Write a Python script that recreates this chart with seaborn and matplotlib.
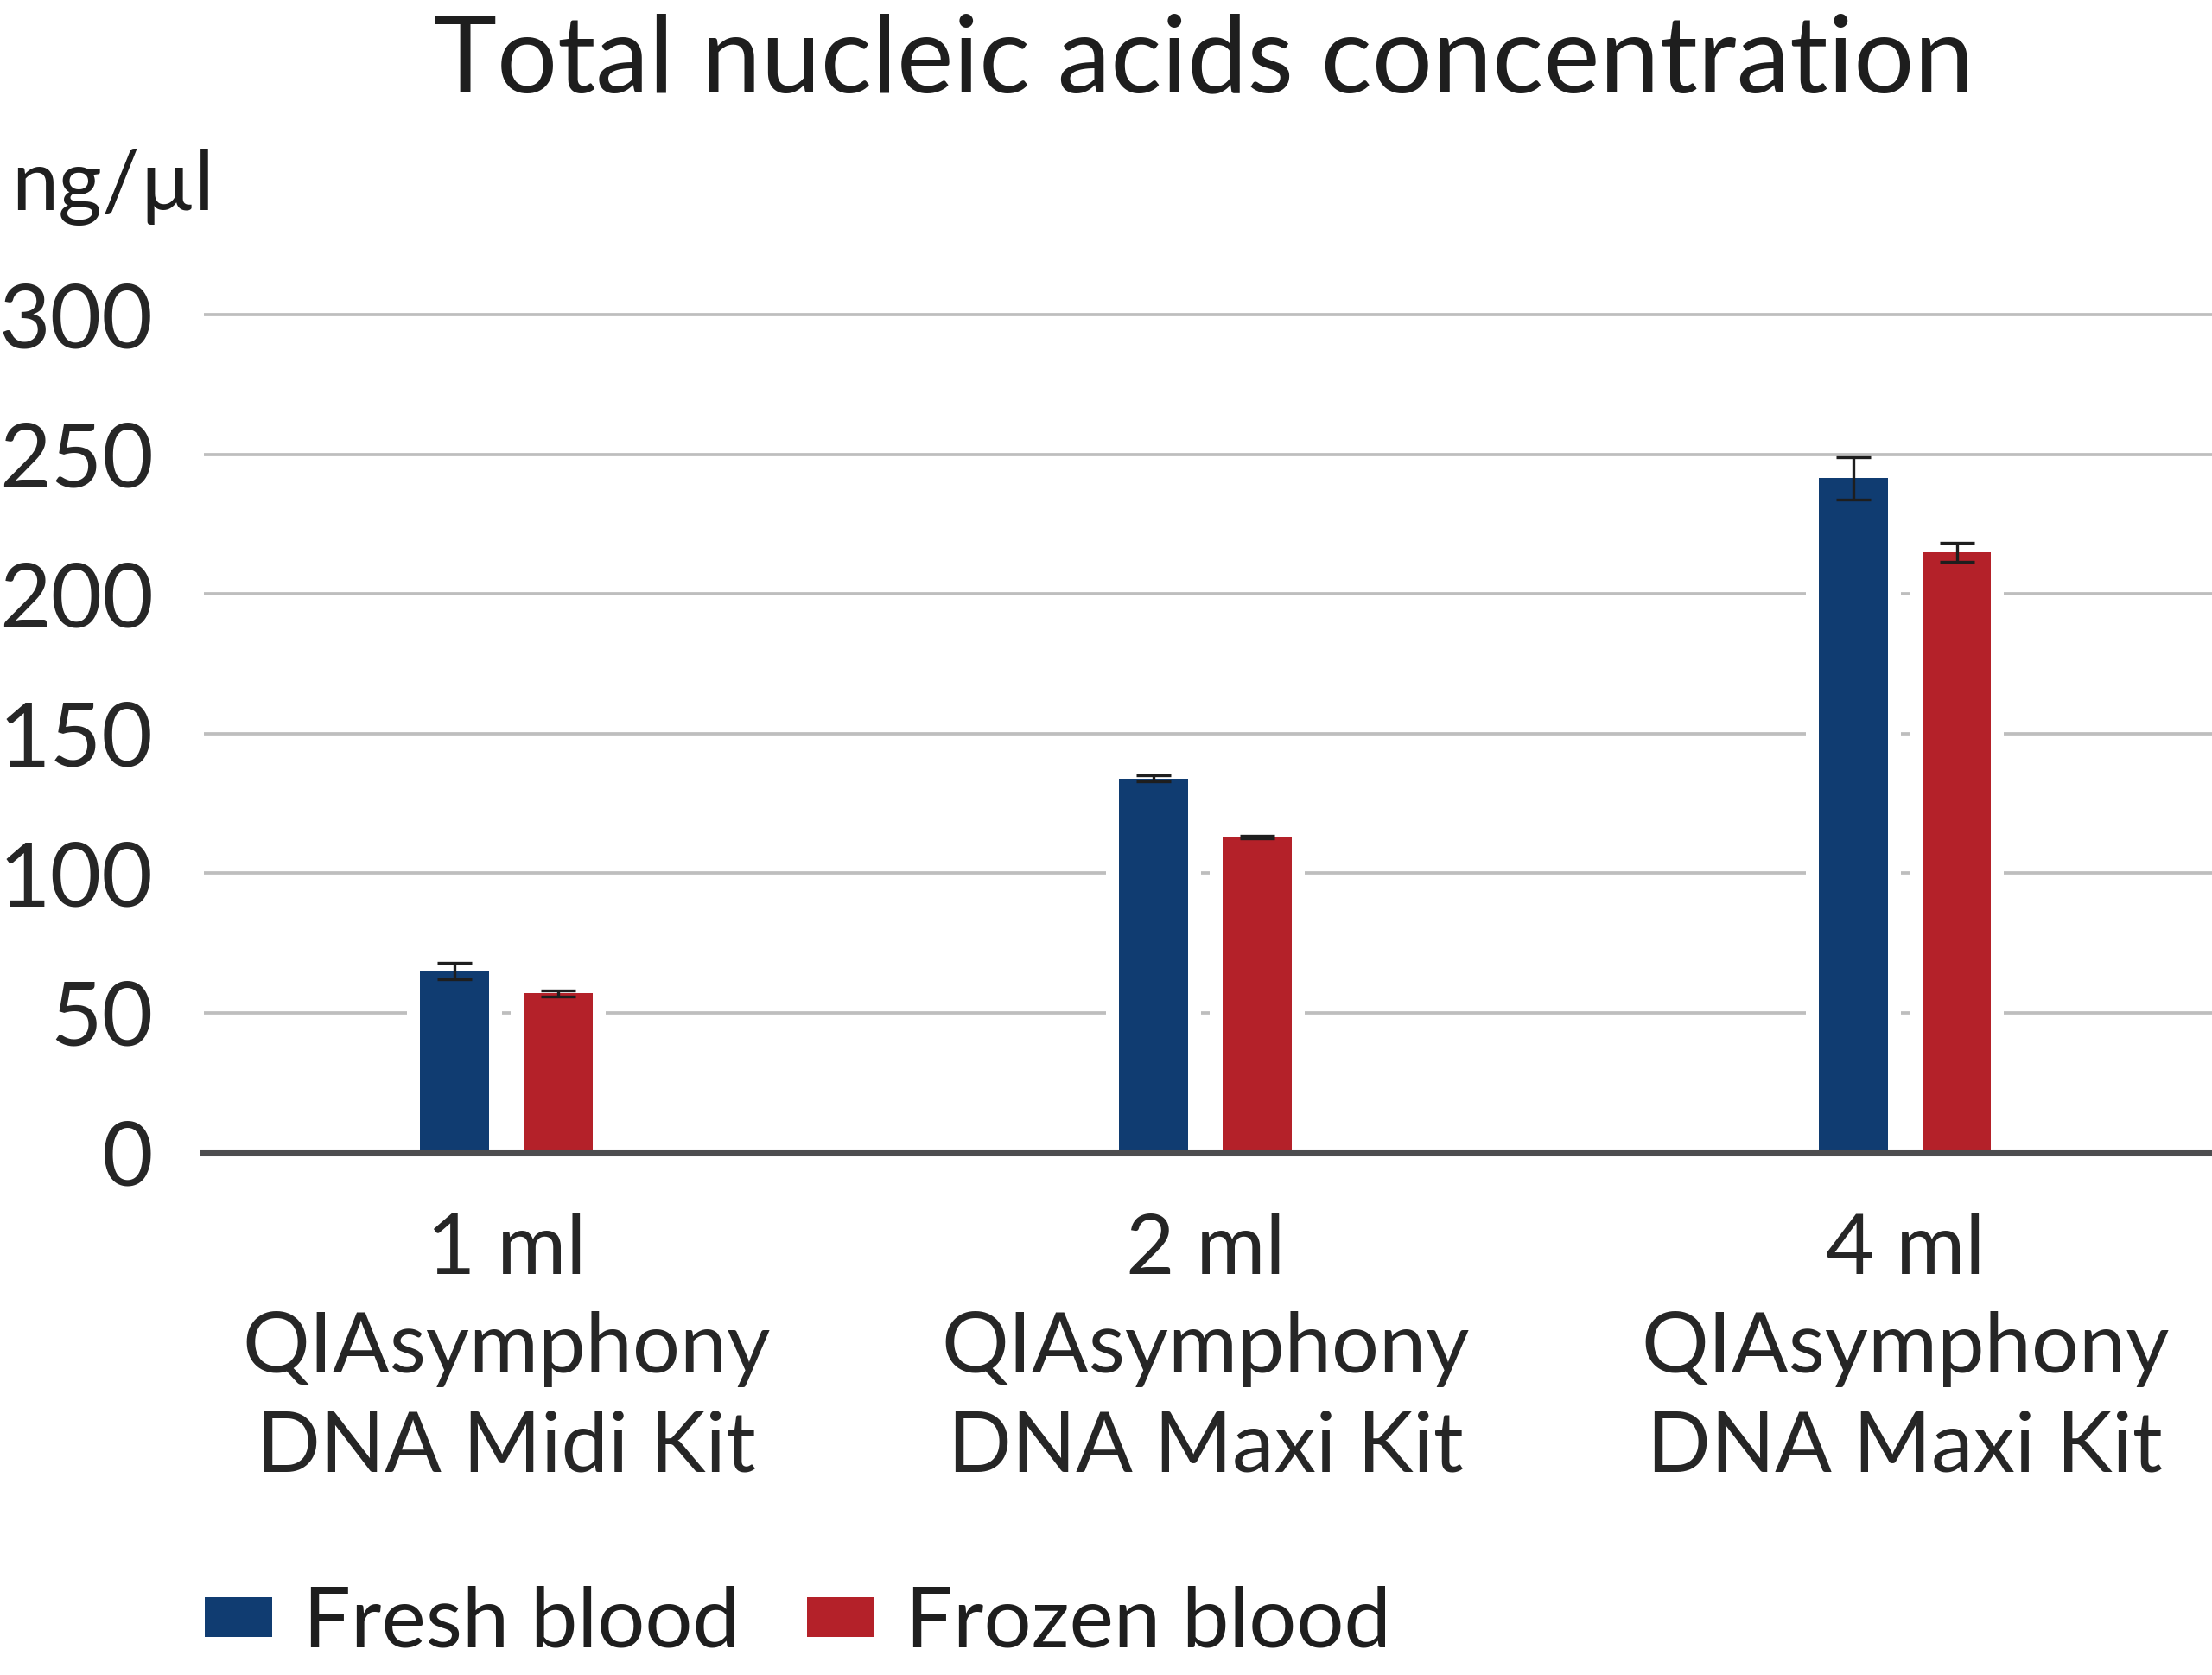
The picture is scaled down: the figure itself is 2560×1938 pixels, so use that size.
import matplotlib
matplotlib.use("Agg")
import matplotlib.pyplot as plt
import matplotlib.patheffects as pe
from matplotlib.patches import Patch
import seaborn as sns
import pandas as pd

# ---- data ----
kits = ["1 ml\nQIAsymphony\nDNA Midi Kit",
        "2 ml\nQIAsymphony\nDNA Maxi Kit",
        "4 ml\nQIAsymphony\nDNA Maxi Kit"]
samples = ["Fresh blood", "Frozen blood"]
fresh_mean = [65, 134, 241.5]
fresh_err = [2.8, 1.0, 7.6]
frozen_mean = [57, 113, 215]
frozen_err = [1.0, 0.6, 3.3]
yticks = [0, 50, 100, 150, 200, 250, 300]
title = "Total nucleic acids concentration"
unit = "ng/\u00b5l"

colors = {"Fresh blood": "#103c71", "Frozen blood": "#b42129"}

df = pd.DataFrame({
    "kit": kits * 2,
    "sample": [samples[0]] * 3 + [samples[1]] * 3,
    "value": fresh_mean + frozen_mean,
    "err": fresh_err + frozen_err,
})

sns.set_theme(style="white")
plt.rcParams["font.family"] = ["Lato", "DejaVu Sans"]
plt.rcParams["text.color"] = "#1e1e1e"

W, H = 2560, 1938
fig = plt.figure(figsize=(W / 100, H / 100), dpi=100)
ax_left, ax_right = 236, 2560
y0_px, ytop_px = 1333.5, 358
ax = fig.add_axes([ax_left / W, 1 - y0_px / H, (ax_right - ax_left) / W, (y0_px - ytop_px) / H])

sns.barplot(data=df, x="kit", y="value", hue="sample", hue_order=samples,
            order=kits, palette=colors, width=0.296, gap=0.333,
            errorbar=None, legend=False, ax=ax, saturation=1)

stroke = [pe.Stroke(linewidth=21.6, foreground="white"), pe.Normal()]
for p in ax.patches:
    p.set_linewidth(0)
    p.set_path_effects(stroke)

# error bars placed at the bar centres computed by seaborn
errs = {}
for s in samples:
    for k in kits:
        row = df[(df["sample"] == s) & (df["kit"] == k)].iloc[0]
        errs.setdefault(s, []).append((row["value"], row["err"]))
for container, s in zip(ax.containers, samples):
    xs = [b.get_x() + b.get_width() / 2 for b in container]
    vals = [v for v, e in errs[s]]
    es = [e for v, e in errs[s]]
    ax.errorbar(xs, vals, yerr=es, fmt="none", ecolor="#1e1e1e",
                elinewidth=2.4, capsize=14.4, capthick=2.4, zorder=5)

ax.set_xlim(-0.432, 2.439)
ax.set_ylim(0, 302)
ax.set_yticks(yticks)
ax.set_yticklabels([str(t) for t in yticks], fontsize=74)
ax.set_xticks(range(len(kits)))
ax.set_xticklabels(kits, fontsize=70, linespacing=1.37)
ax.tick_params(axis="y", length=0, pad=42)
ax.tick_params(axis="x", length=0, pad=50)
ax.set_xlabel("")
ax.set_ylabel("")

ax.set_axisbelow(True)
ax.yaxis.grid(True, color="#bebebe", linewidth=2.7)
ax.xaxis.grid(False)
for sp in ["left", "top", "right"]:
    ax.spines[sp].set_visible(False)
ax.spines["bottom"].set_color("#4d4d4f")
ax.spines["bottom"].set_linewidth(5.8)
ax.spines["bottom"].set_zorder(6)

fig.text(1393 / W, 1 - 106 / H, title, ha="center", va="baseline", fontsize=89)
fig.text(13 / W, 1 - 243 / H, unit, ha="left", va="baseline", fontsize=70)

handles = [Patch(facecolor=colors[s], edgecolor="none", label=s) for s in samples]
fs_leg = 70
em = fs_leg * 100 / 72
leg = fig.legend(handles=handles, loc="upper left", bbox_to_anchor=(237 / W, 1 - 1835 / H),
                 ncol=2, frameon=False, fontsize=fs_leg, handlelength=78 / em,
                 handleheight=34 / em, handletextpad=36 / em, columnspacing=78 / em,
                 borderpad=0, borderaxespad=0)

fig.savefig("out.png", dpi=100, facecolor="white")
